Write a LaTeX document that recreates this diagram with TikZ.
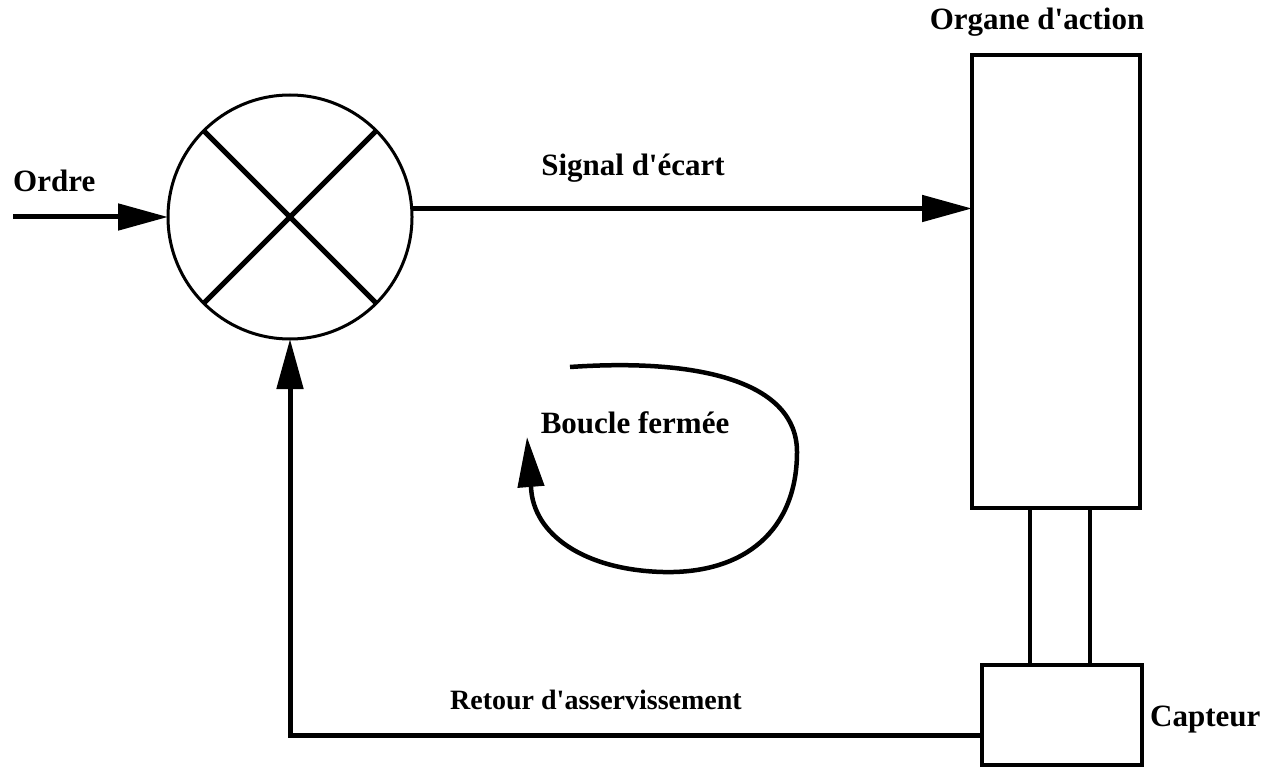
\documentclass[tikz,border=0pt]{standalone}
\usepackage{fontspec}
\setmainfont{Liberation Serif}
\usetikzlibrary{arrows.meta,calc}
\newcommand{\apos}{\textquotesingle}
\begin{document}
\begin{tikzpicture}[x=1pt,y=-1pt,
  lbl/.style={font=\bfseries\fontsize{31}{34}\selectfont, inner sep=0pt},
  blk/.style={draw, line width=4pt, rectangle, inner sep=0pt, outer sep=0pt},
  flow/.style={line width=5pt, -{Triangle[length=50pt,width=26pt]}},
  rod/.style={line width=4pt},
  cross/.style={line width=5pt}]
\useasboundingbox (0,0) rectangle (1281,767);
\fill[white] (0,0) rectangle (1281,767);

% comparator
\node[draw, circle, line width=3pt, minimum size=244pt, inner sep=0pt, outer sep=0pt] (cmp) at (290,217) {};
\draw[cross] (cmp.45) -- (cmp.225);
\draw[cross] (cmp.135) -- (cmp.-45);

% blocks
\node[blk, minimum width=168pt, minimum height=453pt] (org) at (1056,281.5) {};
\node[blk, minimum width=160pt, minimum height=100pt] (cap) at (1062,715) {};
\coordinate (rodL) at (1030,600);
\coordinate (rodR) at (1090,600);
\draw[rod] (org.south -| rodL) -- (cap.north -| rodL);
\draw[rod] (org.south -| rodR) -- (cap.north -| rodR);

% input
\coordinate (in) at (13,217);
\draw[flow] (in) -- (cmp.west);
% error signal
\draw[flow] (cmp.4.7) -- (cmp.4.7 -| org.west);
% feedback
\coordinate (fbc) at (290,735);
\draw[flow] (cap.west |- fbc) -- (fbc) -- (cmp.south);

% loop arrow
\coordinate (l0) at (570,367);
\coordinate (l1) at (797,452);
\coordinate (l2) at (663,572);
\coordinate (l3) at (531,487);
\coordinate (l4) at (527,437);
\draw[line width=4.5pt, -{Triangle[length=50pt,width=26pt]}]
  (l0) .. controls (700,358) and (797,382) .. (l1)
       .. controls (797,530) and (745,574) .. (l2)
       .. controls (585,570) and (533,535) .. (l3) -- (l4);

% labels
\node[lbl, anchor=west] (tOrdre) at (13,181) {Ordre};
\node[lbl] (tSig) at (633,168) {Signal d\apos écart};
\node[lbl] (tOrg) at (1037,22) {Organe d\apos action};
\node[lbl] (tBoucle) at (635,423) {Boucle fermée};
\node[lbl, font=\bfseries\fontsize{28}{32}\selectfont] (tRet) at (596,700) {Retour d\apos asservissement};
\node[lbl, anchor=west] (tCap) at (1150,720) {Capteur};
\end{tikzpicture}
\end{document}
